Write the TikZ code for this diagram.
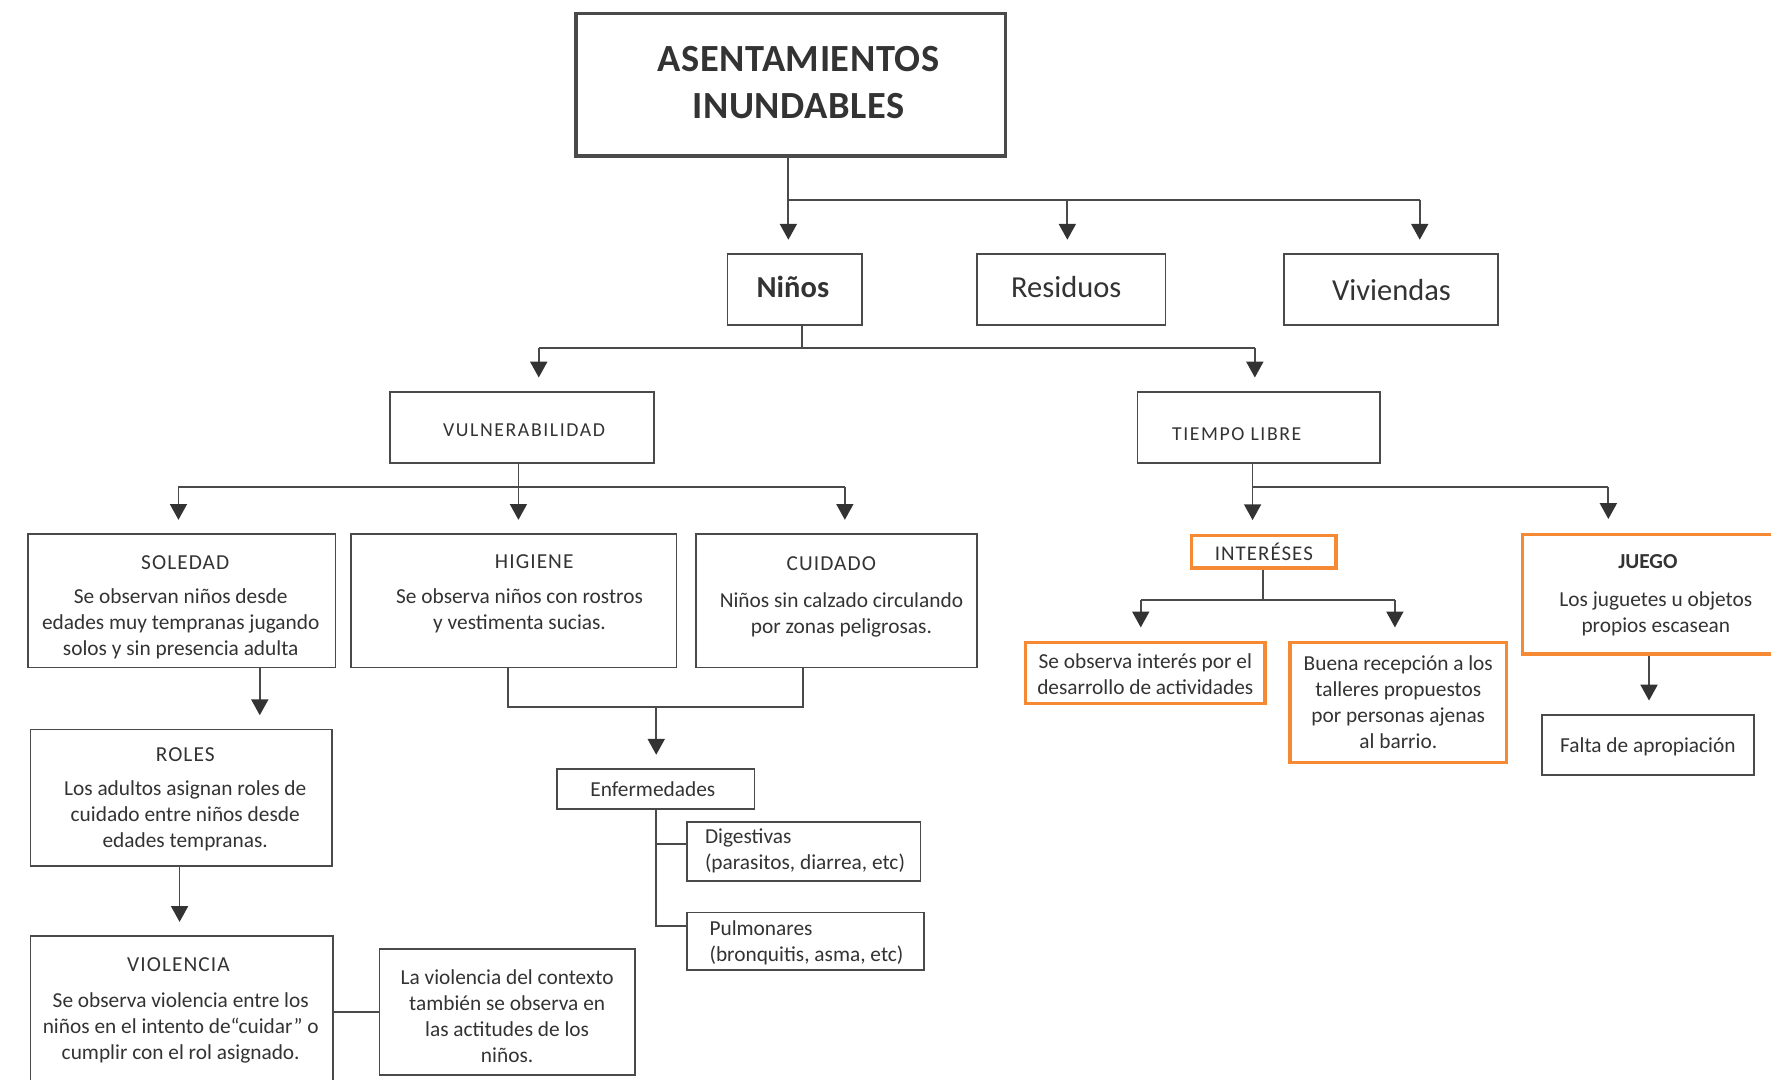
\documentclass[tikz,border=0pt]{standalone}
\usepackage{fontspec}
\setmainfont{Carlito}
\newfontfamily\hdrfont[LetterSpace=5]{Carlito}
\newfontfamily\vlfont[LetterSpace=8]{Carlito}
\newfontfamily\ttlfont[LetterSpace=1.5]{Carlito}
\usetikzlibrary{arrows.meta,fit,calc}
\definecolor{lc}{HTML}{4A4A4A}
\definecolor{ahc}{HTML}{333333}
\definecolor{tc}{HTML}{333333}
\definecolor{orng}{RGB}{245,137,52}
\begin{document}
\begin{tikzpicture}[x=1pt,y=-1pt,
 cbox/.style={draw=lc, line width=1.5pt, inner sep=0pt, rectangle},
 obox/.style={draw=orng, line width=3pt, inner sep=0pt, rectangle},
 txt/.style={align=center, inner sep=0pt, text=tc, font=\fontsize{18.9}{23}\selectfont},
 conn/.style={draw=lc, line width=1.6pt},
 arr/.style={conn, -{Triangle[width=15pt,length=14pt,color=ahc]}, shorten >=12pt},
]
\useasboundingbox (0,0) rectangle (1568,956);
\fill[white] (0,0) rectangle (1568,956);
\clip (0,0) rectangle (1568,956);

% boxes
\node[cbox, line width=3pt, fit={(510,12) (890,138)}] (title) {};
\node[cbox, fit={(644,225) (763,288)}] (ninos) {};
\node[cbox, fit={(865,225) (1032,288)}] (residuos) {};
\node[cbox, fit={(1137,225) (1326,288)}] (viviendas) {};
\node[cbox, fit={(345,347) (579,410)}] (vuln) {};
\node[cbox, fit={(1007,347) (1222,410)}] (tiempo) {};
\node[cbox, fit={(25,473) (297,591)}] (soledad) {};
\node[cbox, fit={(311,473) (599,591)}] (higiene) {};
\node[cbox, fit={(616,473) (865,591)}] (cuidado) {};
\node[cbox, fit={(27,646) (294,767)}] (roles) {};
\node[cbox, fit={(27,829) (295,975)}] (violencia) {};
\node[cbox, fit={(336,840) (562,952)}] (contexto) {};
\node[cbox, fit={(493,681) (668,716)}] (enf) {};
\node[cbox, fit={(608,728) (815,780)}] (dig) {};
\node[cbox, fit={(608,808) (818,859)}] (pulm) {};
\node[obox, fit={(1055,474) (1183,503)}] (intereses) {};
\node[obox, fit={(908,569) (1120,623)}] (obs) {};
\node[obox, fit={(1142,569) (1334,675)}] (buena) {};
\node[obox, fit={(1348,473) (1590,579)}] (juego) {};
\node[cbox, fit={(1365,633) (1553,686)}] (falta) {};

% texts
\node[txt, font=\ttlfont\bfseries\fontsize{34}{41}\selectfont] (title-t) at (707,73) {ASENTAMIENTOS\\INUNDABLES};
\node[txt, font=\bfseries\fontsize{27}{32}\selectfont] (ninos-t) at (702,254) {Niños};
\node[txt, font=\fontsize{27}{32}\selectfont] (residuos-t) at (944,254) {Residuos};
\node[txt, font=\fontsize{27}{32}\selectfont] (viviendas-t) at (1232,257) {Viviendas};
\node[txt, font=\vlfont\fontsize{17.5}{21}\selectfont] (vuln-t) at (464,381) {VULNERABILIDAD};
\node[txt, font=\vlfont\fontsize{17.5}{21}\selectfont] (tiempo-t) at (1095,384) {TIEMPO LIBRE};
\node[txt] (soledad-t) at (160,538) {{\hdrfont\hspace*{8pt}SOLEDAD}\\[7pt]Se observan niños desde\\edades muy tempranas jugando\\solos y sin presencia adulta};
\node[txt] (higiene-t) at (460,526) {{\hdrfont\hspace*{26pt}HIGIENE}\\[8pt]Se observa niños con rostros\\y vestimenta sucias.};
\node[txt] (cuidado-t) at (745,528.5) {{\hdrfont CUIDADO\hspace*{18pt}}\\[9pt]Niños sin calzado circulando\\por zonas peligrosas.};
\node[txt] (roles-t) at (164,708) {{\hdrfont ROLES}\\[7pt]Los adultos asignan roles de\\cuidado entre niños desde\\edades tempranas.};
\node[txt] (violencia-t) at (160,894.5) {{\hdrfont VIOLENCIA\hspace*{4pt}}\\[9pt]Se observa violencia entre los\\niños en el intento de“cuidar” o\\cumplir con el rol asignado.};
\node[txt] (contexto-t) at (449,900) {La violencia del contexto\\también se observa en\\las actitudes de los\\niños.};
\node[txt] (enf-t) at (578,699) {Enfermedades};
\node[txt, align=left, anchor=west] (dig-t) at (624,753.5) {Digestivas\\(parasitos, diarrea, etc)};
\node[txt, align=left, anchor=west] (pulm-t) at (628,835) {Pulmonares\\(bronquitis, asma, etc)};
\node[txt, font=\hdrfont\fontsize{18.5}{23}\selectfont] (intereses-t) at (1119,489) {INTERÉSES};
\node[txt] (obs-t) at (1014,597) {Se observa interés por el\\desarrollo de actividades};
\node[txt] (buena-t) at (1238,622) {Buena recepción a los\\talleres propuestos\\por personas ajenas\\al barrio.};
\node[txt] (juego-t) at (1466,527) {\textbf{JUEGO}\hspace*{14pt}\\[10pt]Los juguetes u objetos\\propios escasean};
\node[txt] (falta-t) at (1459,661) {Falta de apropiación};

% title -> level 1
\coordinate (t1) at (698,177);
\coordinate (t2) at (945,177);
\coordinate (t3) at (1257,177);
\draw[conn] (title.south -| t1) -- (t1) -- (t3);
\draw[arr] (t1) -- (t1 |- ninos.north);
\draw[arr] (t2) -- (t2 |- residuos.north);
\draw[arr] (t3) -- (t3 |- viviendas.north);

% ninos -> level 2
\coordinate (n1) at (710,308);
\coordinate (n2) at (477,308);
\coordinate (n3) at (1111,308);
\draw[conn] (ninos.south -| n1) -- (n1);
\draw[conn] (n2) -- (n3);
\draw[arr] (n2) -- (n2 |- vuln.north);
\draw[arr] (n3) -- (n3 |- tiempo.north);

% vulnerabilidad -> level 3
\coordinate (v1) at (459,431);
\coordinate (v2) at (158,431);
\coordinate (v3) at (748,431);
\draw[conn] (vuln.south -| v1) -- (v1);
\draw[conn] (v2) -- (v3);
\draw[arr] (v2) -- (v2 |- soledad.north);
\draw[arr] (v1) -- (v1 |- higiene.north);
\draw[arr] (v3) -- (v3 |- cuidado.north);

% soledad -> roles -> violencia -> contexto
\coordinate (s1) at (230,600);
\coordinate (r1) at (159,780);
\coordinate (c1) at (316,896);
\draw[arr] (soledad.south -| s1) -- (roles.north -| s1);
\draw[arr] (roles.south -| r1) -- (violencia.north -| r1);
\draw[conn] (violencia.east |- c1) -- (contexto.west |- c1);

% higiene/cuidado -> enfermedades
\coordinate (h1) at (450,626);
\coordinate (h2) at (711,626);
\coordinate (h3) at (581,626);
\draw[conn] (higiene.south -| h1) -- (h1) -- (h2) -- (cuidado.south -| h2);
\draw[arr] (h3) -- (h3 |- enf.north);

% enfermedades -> digestivas, pulmonares
\coordinate (d1) at (581,747);
\coordinate (p1) at (581,820);
\draw[conn] (enf.south -| d1) -- (p1) -- (pulm.west |- p1);
\draw[conn] (d1) -- (dig.west |- d1);

% tiempo libre -> intereses, juego
\coordinate (l1) at (1109,431);
\coordinate (l2) at (1424,431);
\draw[conn] (tiempo.south -| l1) -- (l1) -- (l2);
\draw[arr] (l1) -- (l1 |- intereses.north);
\draw[arr] (l2) -- (l2 |- juego.north);

% intereses -> obs, buena
\coordinate (i1) at (1118,531);
\coordinate (i2) at (1010,531);
\coordinate (i3) at (1235,531);
\draw[conn] (intereses.south -| i1) -- (i1);
\draw[conn] (i2) -- (i3);
\draw[arr] (i2) -- (i2 |- obs.north);
\draw[arr] (i3) -- (i3 |- buena.north);

% juego -> falta
\coordinate (g1) at (1460,600);
\draw[arr] (juego.south -| g1) -- (falta.north -| g1);
\end{tikzpicture}
\end{document}
